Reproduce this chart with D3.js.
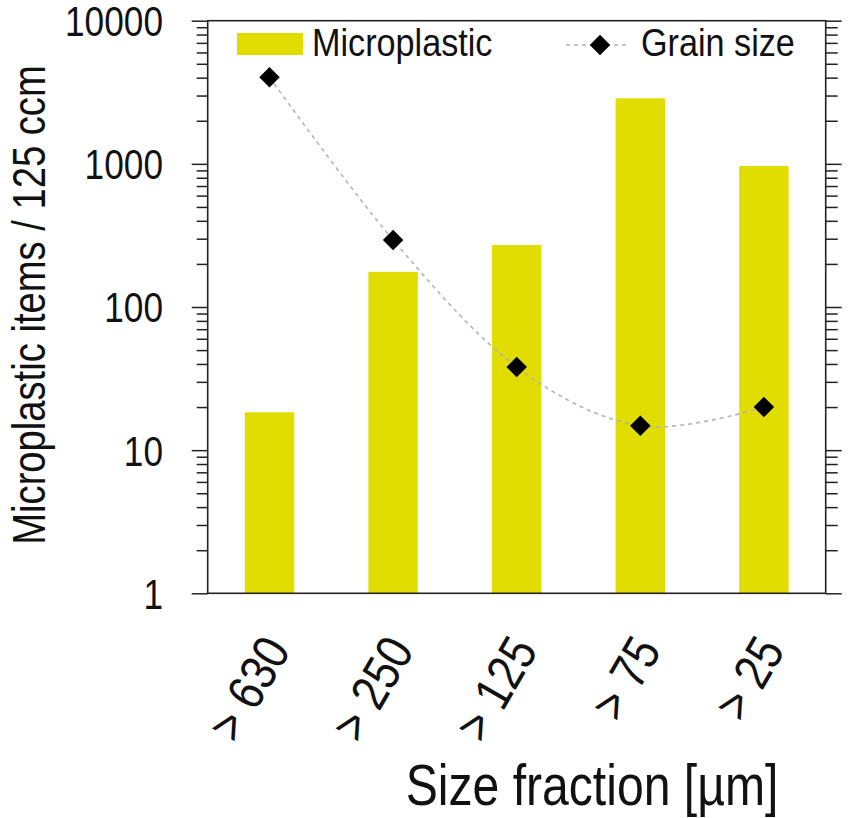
<!DOCTYPE html>
<html>
<head>
<meta charset="utf-8">
<script src="https://cdnjs.cloudflare.com/ajax/libs/d3/7.8.5/d3.min.js"></script>
<style>
  body { margin: 0; background: #fff; }
  text { font-family: "Liberation Sans", Arial, sans-serif; fill: #111; }
</style>
</head>
<body>
<div id="display"></div>
<script>
var categories = ['> 630', '> 250', '> 125', '> 75', '> 25']
var microplastic = [18.4, 176, 271, 2870, 966]
var grainSize = [4020, 294, 38.1, 14.8, 20.0]
var yTicks = [1, 10, 100, 1000, 10000]

var width = 849, height = 818
var plotLeft = 207.7, plotRight = 825.7, plotTop = 20.7, plotBottom = 593.3
var yellow = '#e2dd00'

var svg = d3.select('#display').append('svg')
  .attr('width', width)
  .attr('height', height)

svg.append('rect').attr('width', width).attr('height', height).attr('fill', '#fff')

var x = d3.scaleBand().domain(categories).range([plotLeft, plotRight]).paddingInner(0.6).paddingOuter(0.3)
var y = d3.scaleLog().domain([1, 10000]).range([plotBottom, plotTop])

// minor ticks 2..9 in every decade
var minor = []
yTicks.slice(0, -1).forEach(function(d){
  for (var k = 2; k < 10; k++) minor.push(d * k)
})

// bars
svg.selectAll('rect.bar').data(microplastic).enter()
  .append('rect')
  .attr('class', 'bar')
  .attr('x', function(d, i){ return x(categories[i]) })
  .attr('width', x.bandwidth())
  .attr('y', function(d){ return y(d) })
  .attr('height', function(d){ return plotBottom - y(d) })
  .attr('fill', yellow)

// left axis
var leftAxis = svg.append('g').attr('transform', 'translate(' + plotLeft + ',0)')
leftAxis.call(d3.axisLeft(y).tickValues(yTicks).tickSize(16).tickFormat(''))
leftAxis.append('g').call(d3.axisLeft(y).tickValues(minor).tickSize(11).tickFormat(''))
leftAxis.selectAll('.domain').remove()
leftAxis.selectAll('line').attr('stroke', '#222').attr('stroke-width', 1.5)

svg.append('g').selectAll('text').data(yTicks).enter()
  .append('text')
  .attr('transform', function(d){ return 'translate(163,' + y(d) + ') scale(0.82,1)' })
  .attr('dy', '0.36em')
  .attr('text-anchor', 'end')
  .attr('font-size', 43)
  .text(function(d){ return d })

// right axis
var rightAxis = svg.append('g').attr('transform', 'translate(' + plotRight + ',0)')
rightAxis.call(d3.axisRight(y).tickValues(yTicks).tickSize(16).tickFormat(''))
rightAxis.append('g').call(d3.axisRight(y).tickValues(minor).tickSize(12).tickFormat(''))
rightAxis.selectAll('.domain').remove()
rightAxis.selectAll('line').attr('stroke', '#222').attr('stroke-width', 1.5)

// frame
svg.append('rect')
  .attr('x', plotLeft).attr('y', plotTop)
  .attr('width', plotRight - plotLeft).attr('height', plotBottom - plotTop)
  .attr('fill', 'none').attr('stroke', '#222').attr('stroke-width', 1.6)

// x labels, rotated
svg.append('g').selectAll('text').data(categories).enter()
  .append('text')
  .attr('transform', function(d){
    var cx = x(d) + x.bandwidth() / 2 + 22
    return 'translate(' + cx + ',650) rotate(-60) scale(0.85,1)'
  })
  .attr('text-anchor', 'end')
  .attr('font-size', 51)
  .text(function(d){ return d })

// grain size line
var line = d3.line()
  .x(function(d, i){ return x(categories[i]) + x.bandwidth() / 2 })
  .y(function(d){ return y(d) })
  .curve(d3.curveCardinal.tension(0))

svg.append('path')
  .datum(grainSize)
  .attr('d', line)
  .attr('fill', 'none')
  .attr('stroke', '#b4b4b4')
  .attr('stroke-width', 1.6)
  .attr('stroke-dasharray', '4,4')

var diamond = d3.symbol().type(d3.symbolSquare).size(210)
svg.selectAll('path.pt').data(grainSize).enter()
  .append('path')
  .attr('class', 'pt')
  .attr('d', diamond)
  .attr('transform', function(d, i){
    return 'translate(' + (x(categories[i]) + x.bandwidth() / 2) + ',' + y(d) + ') rotate(45)'
  })
  .attr('fill', '#000')

// legend
var legend = svg.append('g')
legend.append('rect')
  .attr('x', 237).attr('y', 33).attr('width', 66).attr('height', 22)
  .attr('fill', yellow)
legend.append('text')
  .attr('transform', 'translate(312,56) scale(0.9,1)')
  .attr('font-size', 38)
  .text('Microplastic')
legend.append('line')
  .attr('x1', 566).attr('x2', 630).attr('y1', 45).attr('y2', 45)
  .attr('stroke', '#b4b4b4').attr('stroke-width', 1.6).attr('stroke-dasharray', '4,4')
legend.append('path')
  .attr('d', diamond)
  .attr('transform', 'translate(600,45) rotate(45)')
  .attr('fill', '#000')
legend.append('text')
  .attr('transform', 'translate(641,56) scale(0.9,1)')
  .attr('font-size', 38)
  .text('Grain size')

// axis titles
svg.append('text')
  .attr('transform', 'translate(592,805) scale(0.83,1)')
  .attr('text-anchor', 'middle')
  .attr('font-size', 58)
  .text('Size fraction [µm]')

svg.append('text')
  .attr('transform', 'translate(45,305) rotate(-90) scale(0.83,1)')
  .attr('text-anchor', 'middle')
  .attr('font-size', 46)
  .text('Microplastic items / 125 ccm')
</script>
</body>
</html>
